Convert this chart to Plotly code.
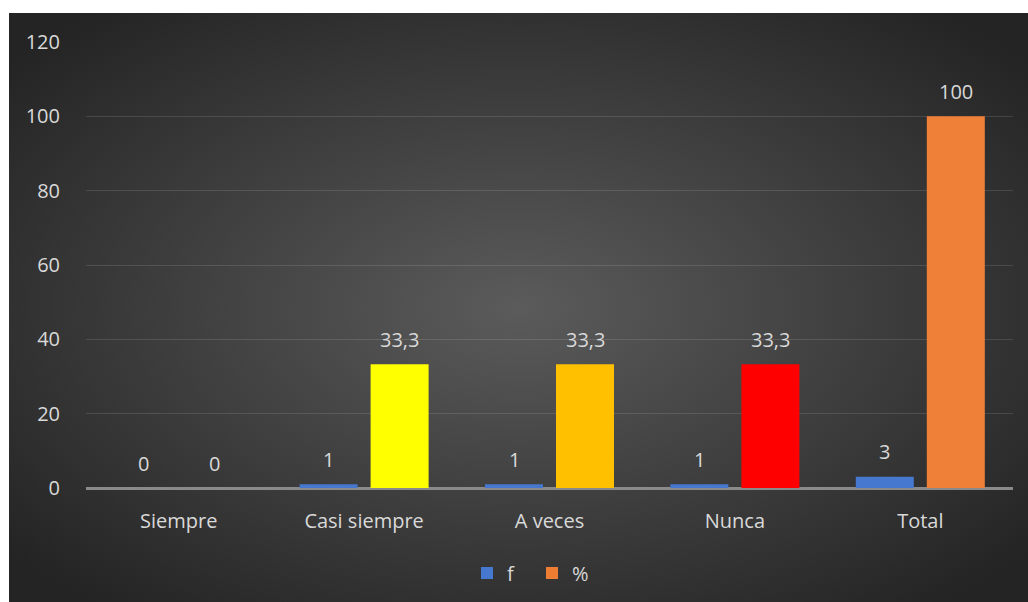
import base64
import plotly.graph_objects as go

# Survey categories and the two series: frequency (f) and percentage (%)
categories = ["Siempre", "Casi siempre", "A veces", "Nunca", "Total"]
freq_values = [0, 1, 1, 1, 3]
pct_values = [0, 33.3, 33.3, 33.3, 100]
pct_labels = ["0", "33,3", "33,3", "33,3", "100"]
freq_labels = ["0", "1", "1", "1", "3"]
y_ticks = [0, 20, 40, 60, 80, 100, 120]

blue = "#4678CF"
orange = "#EC7D33"
pct_colors = ["#EC7D33", "#FFFF00", "#FFC000", "#FF0000", "#EE8038"]
text_color = "#D9D9D9"
font_family = "Open Sans, Noto Sans, sans-serif"
font_size = 20

W, H = 1028, 602
L, R, T, B = 86, 15, 42, 114
plot_w = W - L - R
plot_h = H - T - B

# Dark radial-gradient backdrop as an SVG image
svg = (
    '<svg xmlns="http://www.w3.org/2000/svg" width="1000" height="600" '
    'preserveAspectRatio="none" viewBox="0 0 1000 600">'
    '<defs><radialGradient id="g" cx="50%" cy="50%" r="65%">'
    '<stop offset="0%" stop-color="#5b5b5b"/>'
    '<stop offset="100%" stop-color="#242424"/>'
    '</radialGradient></defs>'
    '<rect width="1000" height="600" fill="url(#g)"/></svg>'
)
bg_src = "data:image/svg+xml;base64," + base64.b64encode(svg.encode()).decode()

bg_x0, bg_y0 = 9, 13
px = lambda x: (x - L) / plot_w
py = lambda y: (H - B - y) / plot_h

fig = go.Figure()
fig.add_trace(go.Bar(
    x=categories, y=freq_values, name="f",
    marker=dict(color=blue, line=dict(width=0)),
))
fig.add_trace(go.Bar(
    x=categories, y=pct_values, name="%",
    marker=dict(color=pct_colors, line=dict(width=0)),
))

# Value labels above each bar
slot_shift = 35.5
annotations = []
for cat, v, t in zip(categories, freq_values, freq_labels):
    annotations.append(dict(x=cat, y=v, text=t, xref="x", yref="y", showarrow=False,
                            xshift=-slot_shift, yshift=25,
                            font=dict(size=font_size, color=text_color, family=font_family)))
for cat, v, t in zip(categories, pct_values, pct_labels):
    annotations.append(dict(x=cat, y=v, text=t, xref="x", yref="y", showarrow=False,
                            xshift=slot_shift, yshift=25,
                            font=dict(size=font_size, color=text_color, family=font_family)))

fig.update_layout(
    width=W, height=H,
    margin=dict(l=L, r=R, t=T, b=B, pad=0, autoexpand=False),
    paper_bgcolor="white",
    plot_bgcolor="rgba(0,0,0,0)",
    barmode="group",
    bargap=0.234,
    bargroupgap=0.183,
    font=dict(family=font_family, color=text_color, size=font_size),
    images=[dict(
        source=bg_src, xref="paper", yref="paper",
        x=px(bg_x0), y=py(bg_y0),
        sizex=px(W) - px(bg_x0), sizey=py(bg_y0) - py(H),
        xanchor="left", yanchor="top", sizing="stretch", layer="below",
    )],
    annotations=annotations,
    showlegend=True,
    legend=dict(
        orientation="h", x=px(532), xanchor="center", y=py(573), yanchor="middle",
        font=dict(size=font_size, color=text_color), bgcolor="rgba(0,0,0,0)",
        traceorder="normal", entrywidth=20, itemwidth=30,
    ),
)

fig.update_xaxes(
    showgrid=False, showline=False, zeroline=False,
    ticks="outside", ticklen=15, tickcolor="rgba(0,0,0,0)",
    tickfont=dict(size=font_size, color=text_color),
)
fig.update_yaxes(
    range=[0, 120], tickvals=y_ticks,
    showgrid=True, gridcolor="rgba(255,255,255,0.12)", gridwidth=1,
    zeroline=True, zerolinecolor="#8a8a8a", zerolinewidth=2.5,
    showline=False,
    ticks="outside", ticklen=21, tickcolor="rgba(0,0,0,0)",
    tickfont=dict(size=font_size, color=text_color),
)

fig.write_html("out.html")
